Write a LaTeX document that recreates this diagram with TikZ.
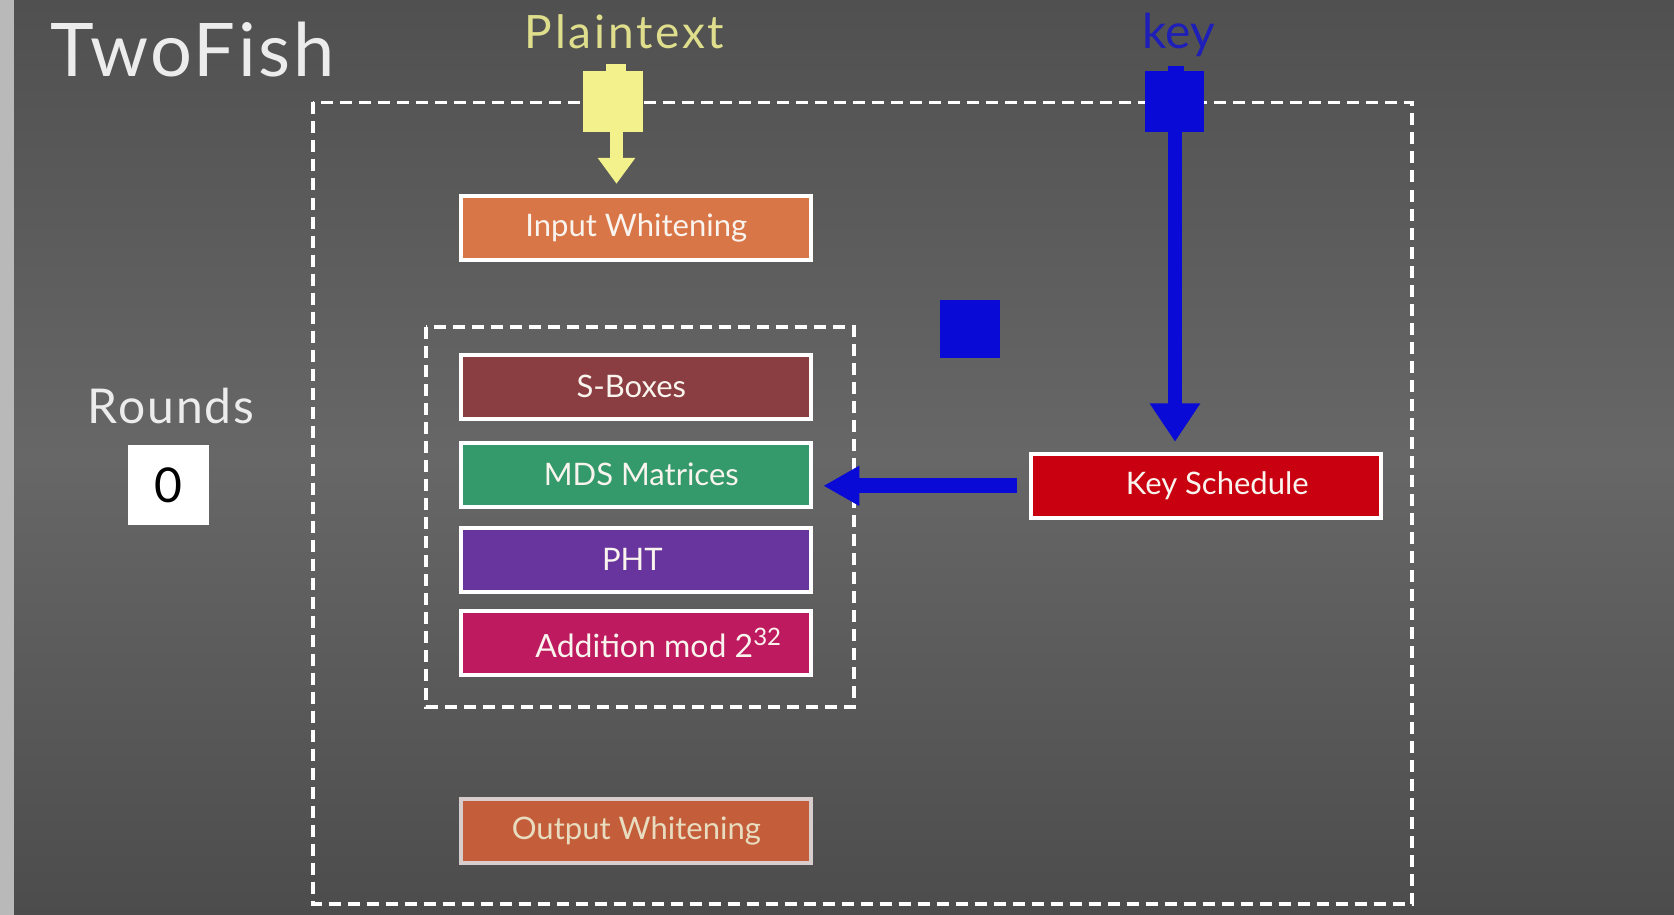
\documentclass[tikz,border=0pt]{standalone}
\usepackage{fontspec}
\setmainfont{Lato}
\usetikzlibrary{arrows.meta}
\definecolor{bgtop}{RGB}{80,80,80}
\definecolor{bgmid}{RGB}{103,103,103}
\definecolor{bgbot}{RGB}{76,76,76}
\definecolor{strip}{RGB}{185,185,185}
\definecolor{cIW}{RGB}{217,118,72}
\definecolor{cSB}{RGB}{138,62,66}
\definecolor{cMDS}{RGB}{52,154,107}
\definecolor{cPHT}{RGB}{104,52,158}
\definecolor{cADD}{RGB}{190,26,96}
\definecolor{cOW}{RGB}{196,94,58}
\definecolor{owborder}{RGB}{215,205,205}
\definecolor{owtext}{RGB}{232,220,192}
\definecolor{cKS}{RGB}{200,0,16}
\definecolor{boxtext}{RGB}{250,244,238}
\definecolor{ylw}{RGB}{243,241,140}
\definecolor{ptxt}{RGB}{222,222,140}
\definecolor{blu}{RGB}{10,10,215}
\definecolor{keyblue}{RGB}{30,30,185}
\definecolor{titlewhite}{RGB}{236,236,236}
\begin{document}
\begin{tikzpicture}[x=1pt,y=-1pt,
  stagebox/.style={draw=white, line width=4pt, inner sep=0pt, minimum width=350pt,
    minimum height=64pt, text=boxtext, font=\fontsize{31}{31}\selectfont},
  dashbox/.style={draw=white, line width=3.2pt, dash pattern=on 12pt off 7pt},
  plug/.style={inner sep=0pt, outer sep=0pt},
  label/.style={inner sep=0pt}]
\useasboundingbox (0,0) rectangle (1674,915);
\shade[top color=bgtop, bottom color=bgbot, middle color=bgmid] (0,0) rectangle (1674,915);
\fill[strip] (0,0) rectangle (14,915);

% titles
\node[label, anchor=base west, font=\fontsize{74}{74}\selectfont\addfontfeature{LetterSpace=3.6}, text=titlewhite] (title) at (50,77) {TwoFish};
\node[label, anchor=base, font=\fontsize{46}{46}\selectfont\addfontfeature{LetterSpace=6}, text=ptxt] (ptlabel) at (624.5,49) {Plaintext};
\node[label, anchor=base, font=\fontsize{48}{48}\selectfont, text=keyblue] (keylabel) at (1179,49) {key};

% dashed frames
\draw[dashbox] (313,102.5) rectangle (1412,904);
\draw[dashbox] (426,327) rectangle (854,707);

% stages
\node[stagebox, fill=cIW] (iw) at (636.3,227.8) {Input Whitening};
\node[stagebox, fill=cSB] (sb) at (636.3,386.8) {\hspace*{-10pt}S-Boxes};
\node[stagebox, fill=cMDS] (mds) at (636.3,474.5) {\hspace*{10pt}MDS Matrices};
\node[stagebox, fill=cPHT] (pht) at (636.3,559.8) {\hspace*{-8pt}PHT};
\node[stagebox, fill=cADD, font=\fontsize{32}{32}\selectfont] (add) at (636.3,643.3) {\hspace*{44pt}Addition mod 2\raisebox{12pt}{\fontsize{24}{24}\selectfont 32}};
\node[stagebox, fill=cOW, draw=owborder, text=owtext] (ow) at (636.3,830.5) {Output Whitening};
\node[stagebox, fill=cKS] (ks) at (1206.3,485.8) {\hspace*{22pt}Key Schedule};

% rounds
\node[label, anchor=base, font=\fontsize{48}{48}\selectfont\addfontfeature{LetterSpace=4}, text=titlewhite] (rounds) at (171,423) {Rounds};
\node[fill=white, inner sep=0pt, minimum width=81pt, minimum height=80pt, font=\fontsize{48}{48}\selectfont, text=black] (rcount) at (168.5,485) {0};

% plaintext plug
\node[plug, fill=ylw, minimum width=60pt, minimum height=60.5pt] (pt) at (613,101.75) {};
\node[plug, fill=ylw, minimum width=20pt, minimum height=8.5pt, anchor=south] (pttab) at ([xshift=3pt,yshift=-1pt]pt.north) {};
\path (pt.south) ++(3.5,0) coordinate (pts);
\coordinate (pte) at (pts |- iw.north);
\draw[ylw, line width=13pt, -{Triangle[width=36pt,length=26pt]}] (pts) -- ([yshift=10pt]pte);

% key plug
\node[plug, fill=blu, minimum width=59.5pt, minimum height=60.5pt] (kp) at (1174.25,101.75) {};
\node[plug, fill=blu, minimum width=16pt, minimum height=6.5pt, anchor=south] (kptab) at ([xshift=1.75pt,yshift=-1pt]kp.north) {};
\path (kp.south) ++(0.75,0) coordinate (kps);
\coordinate (kpe) at (kps |- ks.north);
\draw[blu, line width=14pt, -{Triangle[width=48pt,length=38.5pt]}] (kps) -- ([yshift=10pt]kpe);

% small blue square
\node[plug, fill=blu, minimum width=60.5pt, minimum height=57.6pt] (bsq) at (969.75,328.8) {};

% key schedule to MDS
\coordinate (me) at (mds.east |- ks.west);
\draw[blu, line width=15pt, -{Triangle[width=37.5pt,length=36pt]}] ([xshift=-12pt]ks.west) -- ([xshift=10pt]me);
\end{tikzpicture}
\end{document}
